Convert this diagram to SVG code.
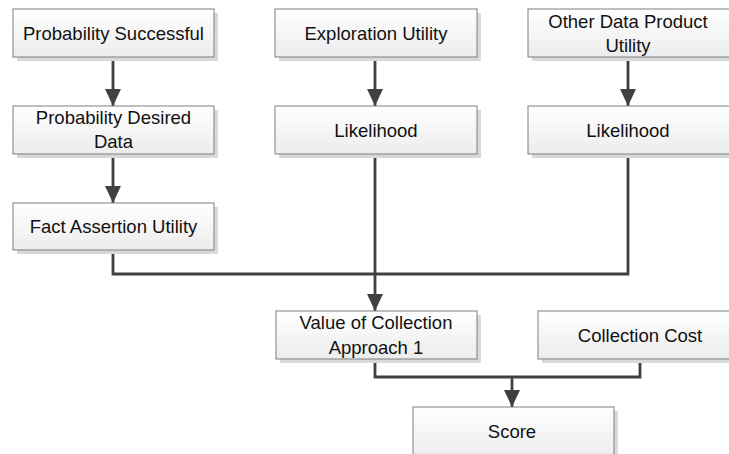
<svg xmlns="http://www.w3.org/2000/svg" width="729" height="454" viewBox="0 0 729 454">
<style>
.box{fill:url(#g);stroke:#7f7f7f;stroke-width:1}
.sh{fill:#d9d9d9}
.t{font-family:"Liberation Sans",Arial,sans-serif;font-size:18.5px;fill:#111111;text-anchor:middle}
.c{fill:none;stroke:#404040;stroke-width:2.8}
</style>
<defs>
<linearGradient id="g" x1="0" y1="0" x2="0" y2="1"><stop offset="0" stop-color="#ffffff"/><stop offset="1" stop-color="#ececec"/></linearGradient>
<marker id="a" markerWidth="17" markerHeight="16" refX="17" refY="8" orient="auto" markerUnits="userSpaceOnUse"><path d="M0,0 L17,8 L0,16 z" fill="#404040"/></marker>
</defs>
<rect width="729" height="454" fill="#ffffff"/>
<g id="connectors">
<path class="c" d="M113,57 V106" marker-end="url(#a)"/>
<path class="c" d="M113,154 V203" marker-end="url(#a)"/>
<path class="c" d="M375,57 V106" marker-end="url(#a)"/>
<path class="c" d="M628,57 V106" marker-end="url(#a)"/>
<path class="c" d="M113,250 V274 H628 V154"/>
<path class="c" d="M375,154 V311" marker-end="url(#a)"/>
<path class="c" d="M375,359 V377 H640 V359"/>
<path class="c" d="M512,377 V407" marker-end="url(#a)"/>
</g>
<g id="n1"><rect class="sh" x="17" y="13" width="201" height="48"/><rect class="box" x="13" y="9" width="201" height="48"/><text class="t" x="113.5" y="40">Probability Successful</text></g>
<g id="n2"><rect class="sh" x="17" y="110" width="201" height="48"/><rect class="box" x="13" y="106" width="201" height="48"/><text class="t" x="113.5" y="124">Probability Desired</text><text class="t" x="113.5" y="148">Data</text></g>
<g id="n3"><rect class="sh" x="17" y="207" width="201" height="47"/><rect class="box" x="13" y="203" width="201" height="47"/><text class="t" x="113.5" y="233">Fact Assertion Utility</text></g>
<g id="n4"><rect class="sh" x="279" y="13" width="202" height="48"/><rect class="box" x="275" y="9" width="202" height="48"/><text class="t" x="376" y="40">Exploration Utility</text></g>
<g id="n5"><rect class="sh" x="279" y="110" width="202" height="48"/><rect class="box" x="275" y="106" width="202" height="48"/><text class="t" x="376" y="137">Likelihood</text></g>
<g id="n6"><rect class="sh" x="532" y="13" width="202" height="48"/><rect class="box" x="528" y="9" width="202" height="48"/><text class="t" x="628" y="28">Other Data Product</text><text class="t" x="628" y="52">Utility</text></g>
<g id="n7"><rect class="sh" x="532" y="110" width="202" height="48"/><rect class="box" x="528" y="106" width="202" height="48"/><text class="t" x="628" y="137">Likelihood</text></g>
<g id="n8"><rect class="sh" x="280" y="315" width="201" height="48"/><rect class="box" x="276" y="311" width="201" height="48"/><text class="t" x="376" y="329">Value of Collection</text><text class="t" x="376" y="354">Approach 1</text></g>
<g id="n9"><rect class="sh" x="542" y="315" width="204" height="48"/><rect class="box" x="538" y="311" width="204" height="48"/><text class="t" x="640" y="342">Collection Cost</text></g>
<g id="n10"><rect class="sh" x="417" y="411" width="201" height="48"/><rect class="box" x="413" y="407" width="201" height="50"/><text class="t" x="512" y="438">Score</text></g>
</svg>
